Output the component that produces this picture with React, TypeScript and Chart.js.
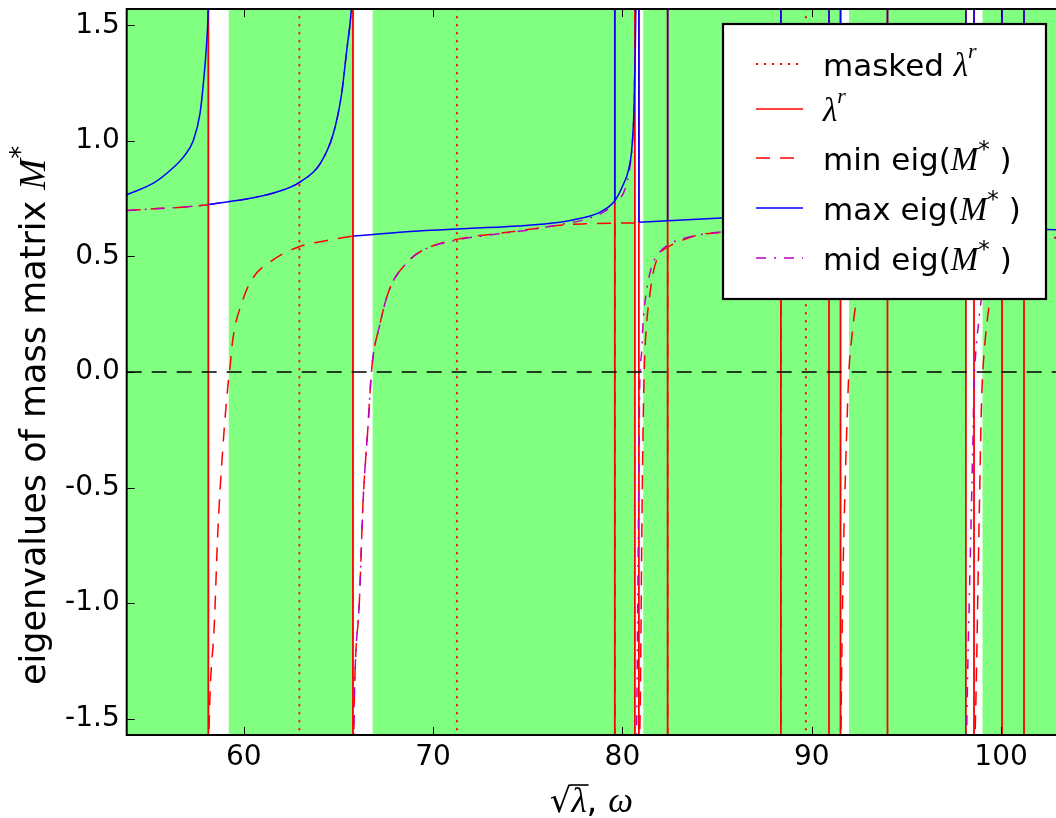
import React, { useEffect, useRef } from "react";
import { Chart, registerables } from "chart.js";
Chart.register(...registerables);

// ---------- data ----------
const X_MIN = 53.82;
const X_MAX = 102.9;
const Y_MIN = -Math.PI / 2;
const Y_MAX = Math.PI / 2;

const xTicks = [60, 70, 80, 90, 100];
const yTicks = [-1.5, -1.0, -0.5, 0.0, 0.5, 1.0, 1.5];

// resonance frequencies (solid red) and masked ones (dotted red)
const lambdaR = [58.13, 65.77, 79.6, 80.66, 80.87, 82.39, 88.37, 90.91, 91.52, 94.0, 98.14, 98.57, 100.05, 101.21];
const maskedLambdaR = [62.94, 71.26, 89.69];

// intervals where M* is positive definite (green)
const greenBands: [number, number][] = [
  [53.82, 58.18],
  [59.21, 65.81],
  [66.81, 80.66],
  [81.1, 91.55],
  [91.97, 98.16],
  [99.02, 102.9],
];

type P = [number, number] | null;

const maxEig: P[] = [
  [53.82, 0.767], [55.23, 0.817], [56.11, 0.872], [56.81, 0.93], [57.34, 1.002], [57.69, 1.118], [57.9, 1.276], [58.05, 1.435], [58.12, 1.564], [58.13, 1.62], null,
  [58.13, 0.725], [60.51, 0.754], [61.92, 0.783], [62.97, 0.822], [64.03, 0.901], [64.73, 1.031], [65.17, 1.204], [65.44, 1.391], [65.68, 1.564], [65.72, 1.62], null,
  [65.78, 0.588], [67.0, 0.596], [69.6, 0.612], [72.0, 0.622], [74.5, 0.632], [76.7, 0.648], [77.8, 0.665], [78.82, 0.692], [79.6, 0.741],
  [80.04, 0.81], [80.31, 0.87], [80.49, 0.96], [80.61, 1.132], [80.68, 1.391], [80.71, 1.564], [80.72, 1.62], null,
  [80.88, 0.648], [82.39, 0.655], [85.24, 0.666], [88.37, 0.675], [91.52, 0.68], [94.0, 0.678], [98.14, 0.66], [98.57, 0.65],
  [100.05, 0.635], [101.21, 0.62], [102.9, 0.616],
];
// narrow poles of max eig: x and the value the spike rises from
const maxSpikeX = [79.6, 80.87, 82.39, 88.37, 90.91, 91.52, 94.0, 98.14, 98.57, 100.05, 101.21];
const maxSpikeBase = [0.741, 0.648, 0.655, 0.675, 0.68, 0.68, 0.678, 0.66, 0.65, 0.635, 0.62];

const minEig: P[] = [
  [53.82, 0.699], [55.5, 0.707], [57.0, 0.715], [58.12, 0.724], null,
  [58.15, -1.65], [58.18, -1.505], [58.45, -1.087], [58.63, -0.697], [58.89, -0.337], [59.16, -0.063], [59.28, 0.023], [59.42, 0.138],
  [59.95, 0.311], [60.47, 0.405], [61.53, 0.484], [62.93, 0.542], [64.34, 0.568], [65.75, 0.588], null,
  [65.8, -1.65], [65.84, -1.42], [66.11, -0.99], [66.31, -0.55], [66.54, -0.265], [66.77, 0.022], [67.16, 0.195], [67.68, 0.354],
  [68.74, 0.483], [69.44, 0.526], [71.3, 0.575], [73.5, 0.6], [75.5, 0.622], [76.7, 0.635], [78.0, 0.641], [79.6, 0.644], [80.86, 0.645], null,
  [80.89, -1.65], [80.95, -1.4], [81.02, -0.75], [81.08, -0.32], [81.15, 0.0], [81.28, 0.209], [81.4, 0.303], [81.63, 0.432], [81.98, 0.512],
  [82.39, 0.54], [83.39, 0.577], [84.09, 0.594], [85.06, 0.603], [87.0, 0.612], [88.37, 0.615], [90.9, 0.62], [91.51, 0.62], null,
  [91.535, -1.65], [91.55, -1.506], [91.66, -0.843], [91.79, -0.411], [91.87, -0.195], [91.97, 0.015], [92.1, 0.137], [92.36, 0.31],
  [92.8, 0.42], [93.5, 0.5], [94.0, 0.53], [96.0, 0.57], [98.13, 0.585], [98.56, 0.59], null,
  [98.6, -1.65], [98.67, -1.42], [98.85, -0.6], [98.97, -0.122], [99.02, -0.02], [99.1, 0.08], [99.23, 0.195], [99.39, 0.296],
  [99.8, 0.42], [100.04, 0.47], [101.2, 0.54], [102.4, 0.567], [102.9, 0.584],
];
// narrow poles of min eig: x and the value the spike falls from
const minSpikeX = [79.6, 82.39, 88.37];
const minSpikeBase = [0.644, 0.54, 0.615];

const midEig: P[] = [
  [53.82, 0.699], [55.5, 0.707], [57.0, 0.715], [58.13, 0.725], [60.51, 0.754], [61.92, 0.783], [62.97, 0.822], [64.03, 0.901],
  [64.73, 1.031], [65.17, 1.204], [65.44, 1.391], [65.68, 1.564], [65.72, 1.62], null,
  [65.8, -1.65], [65.84, -1.42], [66.11, -0.99], [66.31, -0.55], [66.54, -0.265], [66.77, 0.022], [67.16, 0.195], [67.68, 0.354],
  [68.74, 0.483], [69.44, 0.526], [71.3, 0.572], [73.5, 0.598], [75.5, 0.62], [76.7, 0.638], [77.8, 0.655], [78.8, 0.683],
  [79.17, 0.7], [79.6, 0.728], [80.13, 0.79], [80.4, 0.89], [80.55, 1.02], [80.63, 1.2], [80.68, 1.5], [80.7, 1.62], null,
  [80.74, -1.65], [80.78, -1.3], [80.85, -0.6], [80.92, -0.036], [81.01, 0.079], [81.1, 0.224], [81.28, 0.353], [81.54, 0.454],
  [81.98, 0.519], [82.51, 0.555], [83.21, 0.577], [84.09, 0.594], [86.0, 0.612], [90.0, 0.63], [94.0, 0.64], [98.13, 0.645], null,
  [98.17, -1.65], [98.21, -1.42], [98.4, -0.7], [98.52, -0.27], [98.58, -0.022], [98.62, 0.036], [98.74, 0.159], [98.83, 0.224],
  [98.91, 0.288], [99.2, 0.4], [100.0, 0.5], [101.2, 0.55], [102.4, 0.568], [102.9, 0.58],
];

const zeroLine: P[] = [[X_MIN, 0], [X_MAX, 0]];

// ---------- styles ----------
const RED = "#ff0000";
const BLUE = "#0000ff";
const MAGENTA = "#c000c0";
const GREEN = "#80ff80";
const SANS = '"DejaVu Sans"';
const SERIF = '"Liberation Serif"';
const DASH_MIN = [14, 10];
const DASH_MID = [10, 8, 2, 8];
const DASH_MASK = [2, 6];

function toPoints(arr: P[]) {
  const out: { x: number; y: number | null }[] = [];
  let lastX = X_MIN;
  for (const p of arr) {
    if (p) {
      out.push({ x: p[0], y: p[1] });
      lastX = p[0];
    } else out.push({ x: lastX, y: null });
  }
  return out;
}

function vLines(xs: number[]) {
  const out: { x: number; y: number | null }[] = [];
  for (const x of xs) {
    out.push({ x, y: -2 }, { x, y: 2 }, { x, y: null });
  }
  return out;
}

function spikes(xs: number[], base: number[], to: number) {
  const out: { x: number; y: number | null }[] = [];
  xs.forEach((x, i) => {
    out.push({ x, y: base[i] }, { x, y: to }, { x, y: null });
  });
  return out;
}

type Run = { t: string; f: string; dy?: number };

function runsWidth(ctx: CanvasRenderingContext2D, runs: Run[]) {
  let w = 0;
  for (const r of runs) {
    ctx.font = r.f;
    w += ctx.measureText(r.t).width;
  }
  return w;
}

function drawRuns(ctx: CanvasRenderingContext2D, x: number, y: number, runs: Run[]) {
  let cx = x;
  const pos: number[] = [];
  for (const r of runs) {
    ctx.font = r.f;
    pos.push(cx);
    ctx.fillText(r.t, cx, y + (r.dy || 0));
    cx += ctx.measureText(r.t).width;
  }
  pos.push(cx);
  return pos;
}

const decorPlugin = {
  id: "decor",
  beforeDatasetsDraw(chart: any) {
    const { ctx, chartArea: a, scales } = chart;
    const xs = scales.x;
    ctx.save();
    ctx.fillStyle = GREEN;
    for (const [s, e] of greenBands) {
      const p0 = xs.getPixelForValue(s);
      const p1 = xs.getPixelForValue(e);
      ctx.fillRect(p0, a.top, p1 - p0, a.bottom - a.top);
    }
    ctx.restore();
  },
  afterDraw(chart: any) {
    const { ctx, chartArea: a, scales } = chart;
    const xs = scales.x;
    const ys = scales.y;
    ctx.save();
    // tick marks (inward)
    ctx.strokeStyle = "#000";
    ctx.lineWidth = 1;
    ctx.beginPath();
    for (const v of xTicks) {
      const p = Math.round(xs.getPixelForValue(v)) + 0.5;
      ctx.moveTo(p, a.bottom);
      ctx.lineTo(p, a.bottom - 8);
      ctx.moveTo(p, a.top);
      ctx.lineTo(p, a.top + 8);
    }
    for (const v of yTicks) {
      const p = Math.round(ys.getPixelForValue(v)) + 0.5;
      ctx.moveTo(a.left, p);
      ctx.lineTo(a.left + 8, p);
    }
    ctx.stroke();
    // frame
    ctx.lineWidth = 2;
    ctx.beginPath();
    ctx.moveTo(a.right + 2, a.top);
    ctx.lineTo(a.left, a.top);
    ctx.lineTo(a.left, a.bottom);
    ctx.lineTo(a.right + 2, a.bottom);
    ctx.stroke();

    ctx.fillStyle = "#000";
    ctx.textBaseline = "alphabetic";
    // x axis label: sqrt(lambda), omega
    const xl: Run[] = [
      { t: "\u221A", f: `34px ${SANS}` },
      { t: "\u03BB", f: `italic 35px ${SERIF}` },
      { t: ", ", f: `34px ${SANS}` },
      { t: "\u03C9", f: `italic 35px ${SERIF}` },
    ];
    const xlw = runsWidth(ctx, xl);
    const xlBase = 812;
    const pos = drawRuns(ctx, (a.left + a.right) / 2 - xlw / 2, xlBase, xl);
    ctx.font = `34px ${SANS}`;
    const sq = ctx.measureText("\u221A");
    const topY = xlBase - sq.actualBoundingBoxAscent + 1;
    ctx.lineWidth = 1.6;
    ctx.beginPath();
    ctx.moveTo(pos[1] - 1, topY);
    ctx.lineTo(pos[2] + 2, topY);
    ctx.stroke();

    // y axis label
    ctx.save();
    ctx.translate(45, 685);
    ctx.rotate(-Math.PI / 2);
    drawRuns(ctx, 0, 0, [
      { t: "eigenvalues of mass matrix ", f: `35px ${SANS}` },
      { t: "M", f: `italic 37px ${SERIF}` },
      { t: "*", f: `26px ${SANS}`, dy: -16 },
    ]);
    ctx.restore();

    // legend
    const L = a.right - 333;
    const T = a.top + 15;
    const W = 323;
    const H = 275;
    ctx.fillStyle = "#fff";
    ctx.fillRect(L, T, W, H);
    ctx.strokeStyle = "#000";
    ctx.lineWidth = 2.2;
    ctx.strokeRect(L, T, W, H);
    const rows = [
      { y: 40, color: RED, dash: DASH_MASK, lw: 2, runs: [
        { t: "masked ", f: `31px ${SANS}` },
        { t: "\u03BB", f: `italic 33px ${SERIF}` },
        { t: "r", f: `italic 22px ${SERIF}`, dy: -18 },
      ] },
      { y: 85, color: RED, dash: [], lw: 1.5, runs: [
        { t: "\u03BB", f: `italic 33px ${SERIF}` },
        { t: "r", f: `italic 22px ${SERIF}`, dy: -18 },
      ] },
      { y: 134, color: RED, dash: DASH_MIN, lw: 1.5, runs: [
        { t: "min eig(", f: `31px ${SANS}` },
        { t: "M", f: `italic 33px ${SERIF}` },
        { t: "*", f: `23px ${SANS}`, dy: -13 },
        { t: " )", f: `31px ${SANS}` },
      ] },
      { y: 184, color: BLUE, dash: [], lw: 1.5, runs: [
        { t: "max eig(", f: `31px ${SANS}` },
        { t: "M", f: `italic 33px ${SERIF}` },
        { t: "*", f: `23px ${SANS}`, dy: -13 },
        { t: " )", f: `31px ${SANS}` },
      ] },
      { y: 234, color: MAGENTA, dash: DASH_MID, lw: 1.5, runs: [
        { t: "mid eig(", f: `31px ${SANS}` },
        { t: "M", f: `italic 33px ${SERIF}` },
        { t: "*", f: `23px ${SANS}`, dy: -13 },
        { t: " )", f: `31px ${SANS}` },
      ] },
    ];
    for (const r of rows) {
      const yy = T + r.y;
      ctx.strokeStyle = r.color;
      ctx.lineWidth = r.lw;
      ctx.setLineDash(r.dash);
      ctx.beginPath();
      ctx.moveTo(L + 33, yy);
      ctx.lineTo(L + 80, yy);
      ctx.stroke();
      ctx.setLineDash([]);
      ctx.fillStyle = "#000";
      drawRuns(ctx, L + 100, yy + 12, r.runs as Run[]);
    }
    ctx.restore();
  },
};

export default function App() {
  const ref = useRef<HTMLCanvasElement>(null);
  useEffect(() => {
    document.body.style.margin = "0";
    const line = (data: any, color: string, width: number, dash: number[], order: number, smooth: boolean) => ({
      data,
      showLine: true,
      borderColor: color,
      backgroundColor: color,
      borderWidth: width,
      borderDash: dash,
      pointRadius: 0,
      pointHoverRadius: 0,
      spanGaps: false,
      cubicInterpolationMode: smooth ? "monotone" : "default",
      tension: 0,
      order,
    });
    const chart = new Chart(ref.current as HTMLCanvasElement, {
      type: "scatter",
      data: {
        datasets: [
          line(vLines(lambdaR), RED, 1.8, [], 9, false),
          line(vLines(maskedLambdaR), RED, 2, DASH_MASK, 8, false),
          line(spikes(minSpikeX, minSpikeBase, -2), RED, 1.5, DASH_MIN, 7, false),
          line(toPoints(minEig), RED, 1.5, DASH_MIN, 6, true),
          line(toPoints(midEig), MAGENTA, 1.5, DASH_MID, 5, true),
          line(spikes(maxSpikeX, maxSpikeBase, 2), BLUE, 1.5, [], 4, false),
          line(toPoints(maxEig), BLUE, 1.5, [], 3, true),
          line(toPoints(zeroLine), "#000", 1.5, [15, 10], 2, false),
        ] as any,
      },
      options: {
        animation: false,
        responsive: false,
        devicePixelRatio: 1,
        layout: { padding: { top: 9, left: 0, right: 0, bottom: 0 } },
        plugins: { legend: { display: false }, tooltip: { enabled: false } },
        scales: {
          x: {
            type: "linear",
            min: X_MIN,
            max: X_MAX,
            grid: { display: false, drawTicks: false, tickLength: 0 },
            border: { display: false },
            afterBuildTicks: (s: any) => {
              s.ticks = xTicks.map((v) => ({ value: v }));
            },
            afterFit: (s: any) => {
              s.height = 83;
              s.paddingLeft = 0;
              s.paddingRight = 0;
              s.paddingTop = 0;
              s.paddingBottom = 0;
            },
            ticks: {
              font: { family: "DejaVu Sans", size: 28 },
              color: "#000",
              padding: 6,
              maxRotation: 0,
              autoSkip: false,
              callback: (v: any) => String(v),
            },
          },
          y: {
            type: "linear",
            min: Y_MIN,
            max: Y_MAX,
            grid: { display: false, drawTicks: false, tickLength: 0 },
            border: { display: false },
            afterBuildTicks: (s: any) => {
              s.ticks = yTicks.map((v) => ({ value: v }));
            },
            afterFit: (s: any) => {
              s.width = 126.7;
              s.paddingTop = 0;
              s.paddingBottom = 0;
              s.paddingLeft = 0;
              s.paddingRight = 0;
            },
            ticks: {
              font: { family: "DejaVu Sans", size: 28 },
              color: "#000",
              padding: 7,
              autoSkip: false,
              callback: (v: any) => Number(v).toFixed(1),
            },
          },
        },
      } as any,
      plugins: [decorPlugin],
    });
    return () => chart.destroy();
  }, []);
  return (
    <div style={{ position: "absolute", left: 0, top: 0, width: 1056, height: 818, background: "#fff" }}>
      <canvas ref={ref} width={1056} height={818} style={{ display: "block", width: 1056, height: 818 }} />
    </div>
  );
}
